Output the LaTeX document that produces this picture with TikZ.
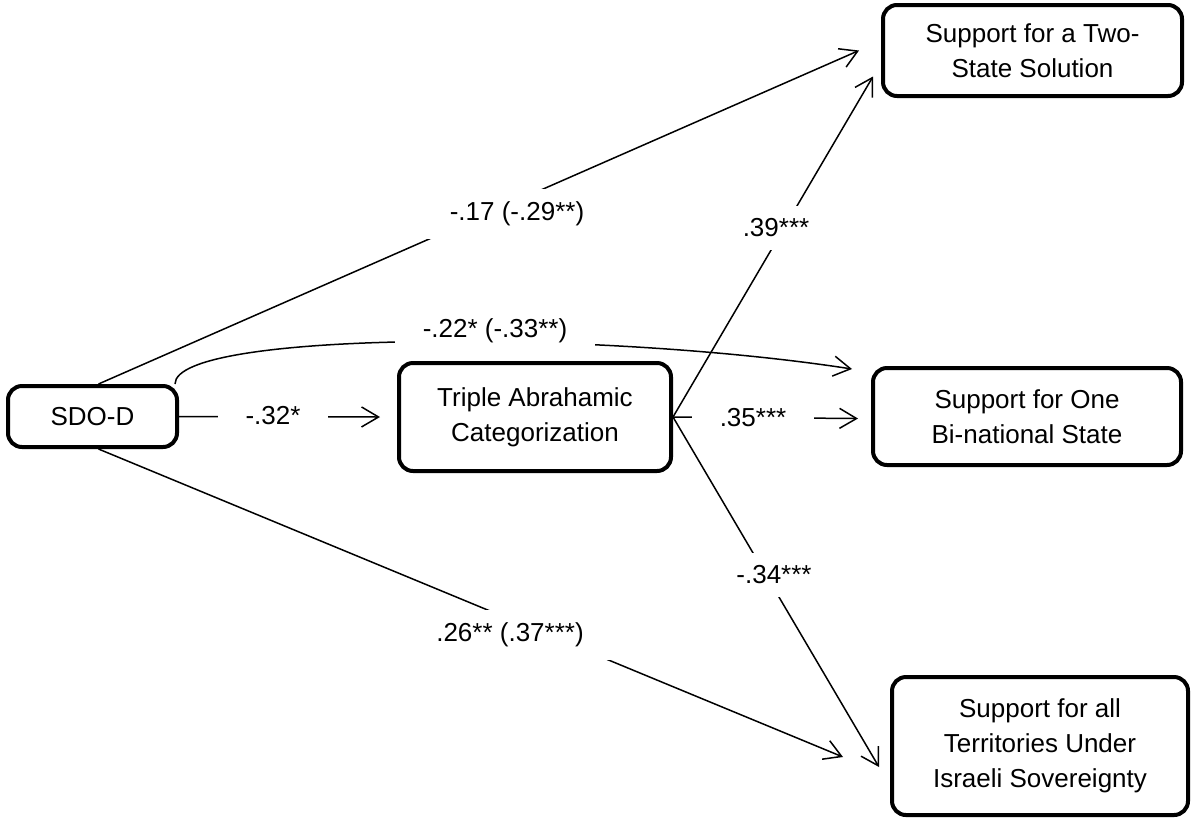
\documentclass[tikz,border=0pt]{standalone}
\usepackage{fontspec}
\setmainfont{Liberation Sans}
\usetikzlibrary{arrows.meta}

\begin{document}
\begin{tikzpicture}[x=.5pt,y=-.5pt,
	box/.style={draw,fill=white,line width=2pt,rounded corners=7pt,align=center,font=\fontsize{13}{17.5}\selectfont},
	link/.style={line width=.75pt,-{Straight Barb[length=8.5pt,width=10pt]}},
	coef/.style={fill=white,inner xsep=14pt,inner ysep=6.5pt,font=\fontsize{13}{15}\selectfont}]
	\useasboundingbox (0,0) rectangle (1192,820);

	\node [box,minimum width=84.5pt,minimum height=30.5pt] (sdo) at (92.5,416.5) {SDO-D};
	\node [box,minimum width=136pt,minimum height=54pt] (tri) at (535,417) {Triple Abrahamic\\Categorization};
	\node [box,minimum width=149.5pt,minimum height=45.5pt] (two) at (1032.5,50.5) {Support for a Two-\\State Solution};
	\node [box,minimum width=154pt,minimum height=48.5pt] (bi) at (1027,416.5) {Support for One\\Bi-national State};
	\node [box,minimum width=148pt,minimum height=69pt] (terr) at (1040,746) {Support for all\\Territories Under\\Israeli Sovereignty};

	% paths
	\draw [link] ([xshift=3pt]sdo.north) -- ([xshift=-11pt]two.west);
	\draw [link] ([xshift=3pt]sdo.south) -- ([xshift=-23.5pt,yshift=-5.5pt]terr.west);
	\draw [link] (sdo.east) -- ([xshift=-8.5pt]tri.west);
	\draw [link] ([xshift=-2pt]sdo.north east) .. controls +(0,-54) and +(-252,-39) .. ([xshift=-9.5pt,yshift=-1.5pt]bi.north west);
	\draw [link] (tri.east) -- ([xshift=-4pt,yshift=-13pt]two.west);
	\draw [link] (tri.east) -- ([xshift=-6.5pt,yshift=-1pt]bi.west);
	\draw [link] (tri.east) -- ([xshift=-5.5pt,yshift=-10.5pt]terr.west);

	% coefficients
	\node [coef] (c17) at (517,214) {-.17 (-.29**)};
	\node [coef] (c22) at (495,331) {-.22* (-.33**)};
	\node [coef] (c32) at (273,416) {-.32*};
	\node [coef] (c26) at (510,635) {.26** (.37***)};
	\node [coef] (c39) at (776,228) {.39***};
	\node [coef] (c35) at (753,418) {.35***};
	\node [coef] (c34) at (774,575) {-.34***};
\end{tikzpicture}
\end{document}
